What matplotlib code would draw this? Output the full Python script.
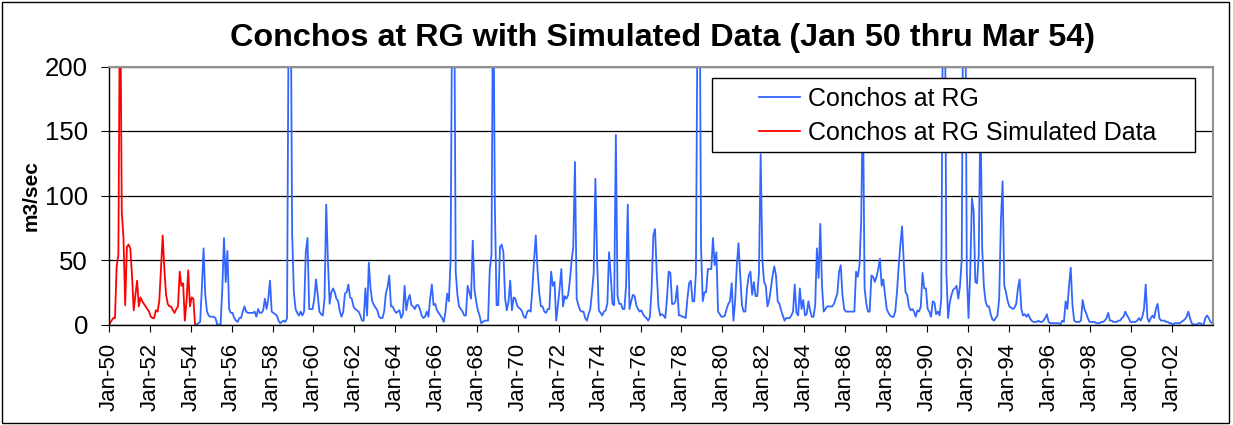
import matplotlib.pyplot as plt
from matplotlib.patches import Rectangle
import numpy as np

plt.rcParams['font.family'] = ['Liberation Sans', 'DejaVu Sans']

# monthly flow, m3/sec
# simulated: Jan 1950 - Mar 1954
simulated = [
    1, 3, 5, 5, 45, 54, 280, 87, 67, 15, 60, 62,      # 1950
    59, 38, 11, 23, 34, 14, 21, 18, 16, 14, 12, 10,   # 1951
    6, 5, 5, 11, 10, 18, 43, 69, 43, 23, 16, 14,      # 1952
    14, 11, 9, 12, 14, 41, 30, 32, 3, 18, 42, 14,     # 1953
    21, 20, 0,                                        # 1954
]

# observed: Apr 1954 - Dec 2003
observed = [
    0, 1, 2, 28, 59, 23, 10, 7, 6,                    # 1954
    6, 6, 5, 0, 0, 0, 28, 67, 33, 57, 12, 9,          # 1955
    9, 5, 3, 2, 5, 5, 10, 14, 10, 9, 9, 9,            # 1956
    9, 10, 6, 12, 9, 9, 11, 20, 12, 20, 34, 10,       # 1957
    9, 8, 7, 3, 1, 2, 3, 2, 5, 260, 300, 70,          # 1958
    25, 12, 9, 7, 10, 7, 10, 56, 67, 12, 12, 12,      # 1959
    20, 35, 23, 10, 8, 7, 20, 93, 49, 16, 25, 28,     # 1960
    25, 20, 18, 10, 6, 10, 24, 25, 31, 21, 20, 14,    # 1961
    12, 11, 10, 7, 3, 3, 28, 7, 48, 28, 18, 15,       # 1962
    13, 11, 6, 5, 5, 10, 24, 29, 38, 14, 14, 11,      # 1963
    9, 10, 11, 5, 8, 30, 11, 19, 23, 15, 14, 12,      # 1964
    15, 15, 12, 7, 5, 6, 10, 6, 20, 31, 15, 16,       # 1965
    11, 9, 7, 5, 2, 10, 24, 18, 50, 270, 300, 41,     # 1966
    23, 14, 12, 10, 7, 7, 30, 25, 20, 65, 27, 18,     # 1967
    11, 7, 1, 2, 3, 3, 3, 43, 54, 280, 90, 15,        # 1968
    15, 60, 62, 56, 20, 11, 18, 34, 11, 21, 20, 15,   # 1969
    13, 12, 10, 6, 5, 10, 11, 10, 28, 50, 69, 43,     # 1970
    25, 14, 14, 10, 9, 12, 12, 41, 30, 33, 3, 15,     # 1971
    28, 43, 14, 22, 20, 23, 34, 49, 60, 126, 20, 15,  # 1972
    11, 10, 10, 5, 3, 8, 12, 25, 40, 113, 50, 11,     # 1973
    9, 7, 10, 11, 16, 56, 38, 16, 15, 147, 22, 16,    # 1974
    16, 12, 12, 30, 93, 12, 18, 23, 22, 15, 12, 10,   # 1975
    11, 8, 6, 5, 3, 6, 28, 69, 74, 40, 14, 7,         # 1976
    8, 7, 5, 20, 41, 40, 16, 16, 18, 30, 7, 7,        # 1977
    6, 6, 5, 20, 32, 34, 18, 18, 40, 260, 320, 60,    # 1978
    18, 25, 25, 43, 43, 43, 67, 46, 56, 10, 8, 6,     # 1979
    6, 7, 12, 16, 18, 32, 3, 18, 46, 63, 38, 15,      # 1980
    10, 10, 28, 38, 41, 23, 33, 22, 22, 40, 132, 50,  # 1981
    33, 30, 14, 19, 28, 38, 45, 38, 18, 16, 11, 7,    # 1982
    3, 5, 5, 5, 7, 10, 31, 9, 7, 28, 12, 19,          # 1983
    7, 8, 18, 11, 6, 6, 15, 59, 36, 78, 30, 10,       # 1984
    12, 14, 14, 14, 14, 16, 20, 24, 41, 46, 23, 12,   # 1985
    10, 10, 10, 10, 10, 10, 41, 37, 46, 80, 180, 28,  # 1986
    16, 10, 10, 38, 37, 33, 37, 43, 51, 30, 35, 23,   # 1987
    12, 9, 7, 6, 6, 10, 25, 45, 62, 76, 48, 25,       # 1988
    23, 14, 11, 12, 10, 6, 11, 10, 14, 40, 28, 28,    # 1989
    12, 10, 6, 18, 17, 8, 10, 7, 20, 260, 300, 40,    # 1990
    5, 17, 23, 27, 28, 30, 20, 30, 50, 290, 300, 40,  # 1991
    5, 40, 98, 88, 33, 32, 54, 170, 60, 30, 18, 14,   # 1992
    14, 8, 4, 3, 5, 7, 20, 80, 111, 30, 25, 18,       # 1993
    14, 13, 12, 13, 16, 28, 35, 12, 7, 8, 6, 8,       # 1994
    5, 3, 2, 2, 2, 3, 2, 2, 3, 5, 8, 2,               # 1995
    1, 1, 1, 1, 1, 1, 0, 3, 2, 18, 12, 30,            # 1996
    44, 15, 3, 2, 2, 2, 3, 19, 12, 9, 5, 2,           # 1997
    2, 2, 2, 1, 1, 1, 2, 2, 3, 5, 9, 3,               # 1998
    3, 2, 2, 2, 3, 3, 5, 6, 10, 7, 5, 2,              # 1999
    2, 2, 2, 3, 5, 3, 6, 12, 31, 5, 2, 5,             # 2000
    7, 5, 12, 16, 5, 3, 3, 3, 2, 2, 1, 1,             # 2001
    0, 1, 1, 1, 1, 2, 3, 4, 6, 10, 5, 1,              # 2002
    0, 0, 0, 1, 1, 0, 0, 5, 7, 5, 2, 1,               # 2003
]

tick_years = list(range(1950, 2003, 2))
tick_labels = ['Jan-%02d' % (y % 100) for y in tick_years]

W, H = 1233, 425
fig = plt.figure(figsize=(W / 100, H / 100), dpi=100)
L, R, T, B = 109, 1213, 66.5, 324.5
ax = fig.add_axes([L / W, 1 - B / H, (R - L) / W, (B - T) / H])

x_sim = np.arange(len(simulated)) + 0.5
x_obs = np.arange(len(observed)) + len(simulated) + 0.5

l1, = ax.plot(x_obs, observed, color='#3366FF', lw=1.3)
l2, = ax.plot(x_sim, simulated, color='#FF0000', lw=1.3)

n_months = len(simulated) + len(observed)
ax.set_xlim(0, n_months)
ax.set_ylim(0, 200)

ax.set_xticks([(y - 1950) * 12 for y in tick_years])
ax.set_xticklabels(tick_labels, rotation=90, fontsize=16)
ax.set_yticks([0, 50, 100, 150, 200])
ax.tick_params(axis='y', labelsize=18.5, length=6, pad=9, direction='out')
ax.tick_params(axis='x', length=5, pad=8, direction='out')

ax.yaxis.grid(True, color='black', lw=0.9)
for s in ['left', 'bottom']:
    ax.spines[s].set_color('black')
    ax.spines[s].set_linewidth(1.0)
for s in ['top', 'right']:
    ax.spines[s].set_color('#909090')
    ax.spines[s].set_linewidth(1.5)

# legend box
ax.add_patch(Rectangle((0.546, 0.669), 0.438, 0.286, transform=ax.transAxes,
                       facecolor='white', edgecolor='black', lw=1.0, zorder=4))
ax.legend([l1, l2], ['Conchos at RG', 'Conchos at RG Simulated Data'],
          loc='upper left', bbox_to_anchor=(0.5888, 0.92), frameon=False,
          fontsize=18, handlelength=1.64, handletextpad=0.32,
          labelspacing=0.4, borderpad=0, borderaxespad=0)

fig.text(663 / W, 1 - 38 / H, 'Conchos at RG with Simulated Data (Jan 50 thru Mar 54)',
         ha='center', va='center', fontsize=23.3, fontweight='bold')
fig.text(31 / W, 1 - 196 / H, 'm3/sec', rotation=90, ha='center', va='center',
         fontsize=15, fontweight='bold')

fig.patches.append(Rectangle((0.002, 0.004), 0.995, 0.992, transform=fig.transFigure,
                             fill=False, edgecolor='black', lw=1.0))

fig.savefig('out.png', dpi=100)
